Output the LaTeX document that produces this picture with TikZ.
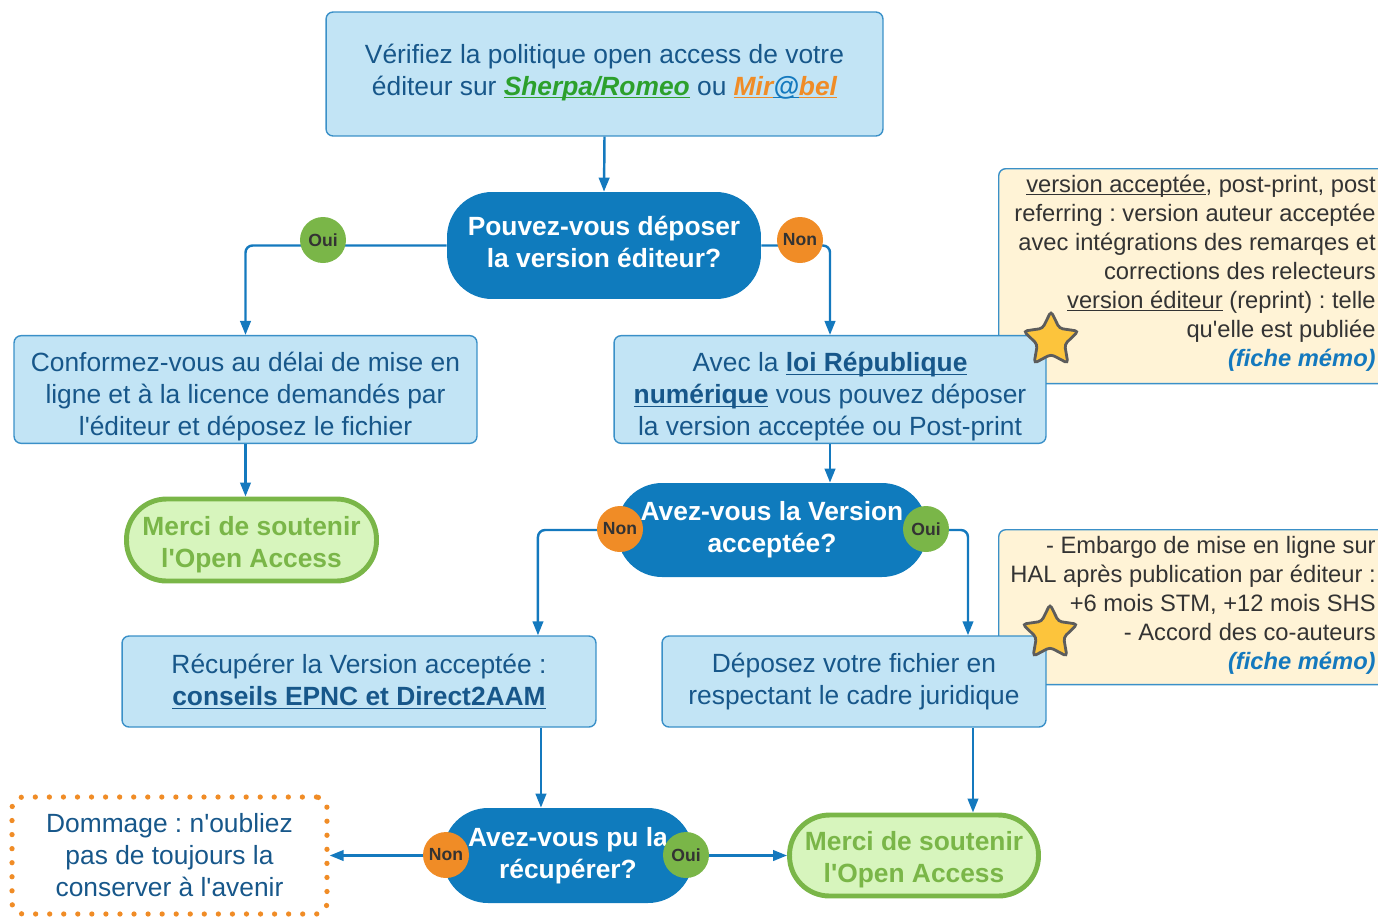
\documentclass[tikz,border=0pt]{standalone}
\usepackage{fontspec}
\setmainfont{Liberation Sans}
\usetikzlibrary{arrows.meta,shapes.geometric}
\frenchspacing

\definecolor{boxfill}{HTML}{C2E4F5}
\definecolor{boxline}{HTML}{3A90C8}
\definecolor{boxtext}{HTML}{17578A}
\definecolor{decfill}{HTML}{0F7BBD}
\definecolor{arrowcol}{HTML}{1479BE}
\definecolor{ouicol}{HTML}{7AB648}
\definecolor{noncol}{HTML}{F08C26}
\definecolor{mercifill}{HTML}{D7F5BD}
\definecolor{notefill}{HTML}{FFF3D6}
\definecolor{dunkel}{HTML}{333333}
\definecolor{sherpacol}{HTML}{2CA02C}
\definecolor{starfill}{HTML}{FCC43C}

\newcommand\souligne[1]{\underline{\smash{#1}}}
\newcommand\fichememo{{\color{arrowcol}\bfseries\itshape (fiche mémo)}}
\newcommand\apos{\textquotesingle}
% Text im Knoten verschieben
\newcommand\decale[2]{\raisebox{#1}[\height][\depth]{\begin{tabular}{@{}c@{}}#2\end{tabular}}}

\tikzset{
  base/.style={font=\fontsize{15}{18.2}\selectfont, align=center},
  box/.style={base, draw=boxline, fill=boxfill, text=boxtext, rounded corners=4pt, line width=0.8pt},
  decision/.style={base, fill=decfill, text=white, font=\fontsize{15}{18.2}\selectfont\bfseries, rounded corners=0.9cm},
  merci/.style={base, draw=ouicol, fill=mercifill, text=ouicol, line width=2.8pt, font=\fontsize{15}{18.2}\selectfont\bfseries, rounded corners=0.8cm},
  dommage/.style={base, draw=noncol, text=boxtext, line width=3pt, dash pattern=on 0pt off 8pt, line cap=round, rounded corners=6pt},
  oui/.style={circle, fill=ouicol, text=dunkel, minimum size=0.92cm, inner sep=0pt, font=\fontsize{10}{12}\selectfont\bfseries},
  non/.style={oui, fill=noncol},
  note/.style={draw=boxline, fill=notefill, rounded corners=4pt, line width=0.8pt},
  notetext/.style={font=\fontsize{13.5}{16.5}\selectfont, align=right, text=dunkel, inner sep=0pt},
  stern/.style={star, star points=5, star point ratio=2, minimum size=1.15cm, inner sep=0pt, fill=starfill, draw=dunkel!80, line width=1.6pt, rounded corners=2pt},
  fleche/.style={draw=arrowcol, line width=1.4pt, -{Triangle[width=6pt,length=8pt]}, rounded corners=4pt}
}

\begin{document}
\begin{tikzpicture}[x=0.02cm, y=-0.02cm]
  \useasboundingbox (0,0) rectangle (1378,917);
  \clip (0,0) rectangle (1378,917);

  % Notes
  \node[note, minimum width=7.9cm, minimum height=4.3cm, anchor=north west] (note1) at (998,168) {};
  \node[notetext, anchor=east] (note1txt) at (1376,273) {\souligne{version acceptée}, post-print, post\\
    referring : version auteur acceptée\\
    avec intégrations des remarqes et\\
    corrections des relecteurs\\
    \souligne{version éditeur} (reprint) : telle\\
    qu\apos elle est publiée\\
    \fichememo};
  \node[note, minimum width=7.9cm, minimum height=3.1cm, anchor=north west] (note2) at (998,529) {};
  \node[notetext, anchor=east] (note2txt) at (1376,605) {- Embargo de mise en ligne sur\\
    HAL après publication par éditeur :\\
    +6 mois STM, +12 mois SHS\\
    - Accord des co-auteurs\\
    \fichememo};

  % Boites
  \node[box, minimum width=11.14cm, minimum height=2.48cm] (verif) at (604.5,74) {\decale{0.02cm}{Vérifiez la politique open access de votre\\
    éditeur sur {\color{sherpacol}\bfseries\itshape\souligne{Sherpa/Romeo}} ou
    {\bfseries\itshape{\color{noncol}\souligne{Mir}}{\color{arrowcol}\souligne{@}}{\color{noncol}\souligne{bel}}}}};
  \node[decision, minimum width=6.28cm, minimum height=2.14cm] (q1) at (604,245.5) {\decale{0cm}{Pouvez-vous déposer\\la version éditeur?}};
  \node[box, minimum width=9.26cm, minimum height=2.14cm] (conf) at (245.5,389.5) {\decale{-0.16cm}{Conformez-vous au délai de mise en\\
    ligne et à la licence demandés par\\l\apos éditeur et déposez le fichier}};
  \node[box, minimum width=8.64cm, minimum height=2.14cm] (loi) at (830,389.5) {\decale{-0.16cm}{Avec la \textbf{\souligne{loi République}}\\
    \textbf{\souligne{numérique}} vous pouvez déposer\\la version acceptée ou Post-print}};
  \node[merci, minimum width=5.0cm, minimum height=1.64cm] (merci1) at (251.5,540) {\decale{-0.1cm}{Merci de soutenir\\l\apos Open Access}};
  \node[decision, minimum width=6.2cm, minimum height=1.88cm] (q2) at (772,530) {Avez-vous la Version\\acceptée?};
  \node[box, minimum width=9.48cm, minimum height=1.82cm] (recup) at (359,681.5) {Récupérer la Version acceptée :\\
    \textbf{\souligne{conseils EPNC et Direct2AAM}}};
  \node[box, minimum width=7.68cm, minimum height=1.82cm] (depot) at (854,681.5) {Déposez votre fichier en\\respectant le cadre juridique};
  \node[decision, minimum width=5.0cm, minimum height=1.9cm] (q3) at (568,855.5) {Avez-vous pu la\\récupérer?};
  \node[merci, minimum width=4.98cm, minimum height=1.62cm] (merci2) at (914,855.5) {\decale{-0.1cm}{Merci de soutenir\\l\apos Open Access}};
  \node[dommage, minimum width=6.3cm, minimum height=2.34cm] (dommage) at (169.5,855.5) {Dommage : n\apos oubliez\\
    pas de toujours la\\conserver à l\apos avenir};

  % Fleches
  \draw[fleche] (verif.south) -- (q1.north);
  \draw[fleche] (q1.west) -| (conf.north);
  \draw[fleche] (q1.east) -| (loi.north);
  \draw[fleche] (conf.south) -- (conf.south |- merci1.north);
  \draw[fleche] (loi.south) -- (loi.south |- q2.north);
  \draw[fleche] (q2.west) -| ([xshift=3.58cm]recup.north);
  \draw[fleche] (q2.east) -| ([xshift=2.28cm]depot.north);
  \draw[fleche] ([xshift=3.64cm]recup.south) -- ([xshift=3.64cm]recup.south |- q3.north);
  \draw[fleche] ([xshift=2.38cm]depot.south) -- ([xshift=2.38cm]depot.south |- merci2.north);
  \draw[fleche] (q3.west) -- (dommage.east);
  \draw[fleche] (q3.east) -- (merci2.west);

  % Oui / Non
  \node[oui] (oui1) at (323,240) {Oui};
  \node[non] (non1) at (800,240) {Non};
  \node[non] (non2) at (620,529) {Non};
  \node[oui] (oui2) at (926,529) {Oui};
  \node[non] (non3) at (446,855) {Non};
  \node[oui] (oui3) at (686,855) {Oui};

  % Etoiles
  \node[stern] (stern1) at (1051,340) {};
  \node[stern] (stern2) at (1050,633) {};
\end{tikzpicture}
\end{document}
